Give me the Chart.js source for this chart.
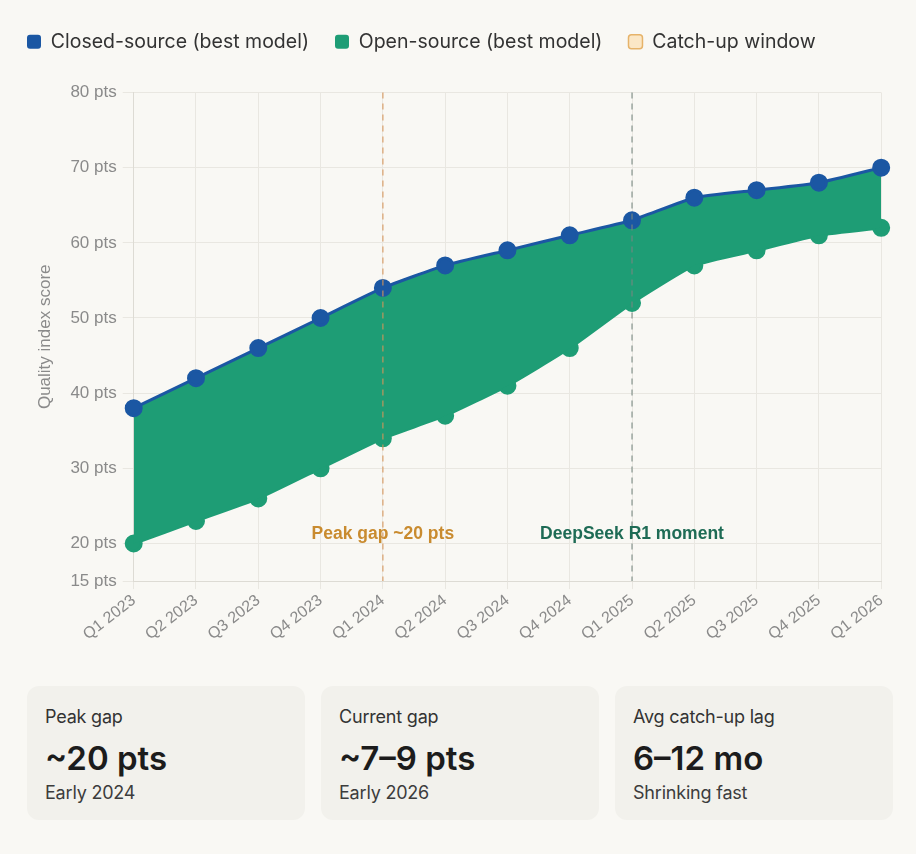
<!DOCTYPE html>
<html>
<head>
<meta charset="utf-8">
<script src="https://cdn.jsdelivr.net/npm/chart.js@4.4.1/dist/chart.umd.min.js"></script>
<style>
    html, body { margin: 0; padding: 0; background: #f9f8f4; }
    body { width: 916px; height: 854px; position: relative; overflow: hidden; font-family: "Inter", "Noto Sans", sans-serif; }
    #chartBox { position: absolute; left: 1px; top: 6px; width: 894px; height: 640px; }
    .cards { position: absolute; left: 27px; top: 686px; display: flex; gap: 16px; }
    .card { width: 260px; height: 114px; padding: 20px 0 0 18px; background: #f2f1ec; border-radius: 12px; }
    .card .lbl { font-size: 18px; line-height: 22px; color: #333; letter-spacing: -0.2px; }
    .card .val { font-size: 33px; line-height: 38px; font-weight: 600; color: #1c1c1c; margin-top: 11px; letter-spacing: 0; }
    .card .sub { font-size: 18px; line-height: 22px; color: #3c3c3c; margin-top: 5px; letter-spacing: -0.2px; }
</style>
</head>
<body>
<div id="chartBox"><canvas id="gapChart"></canvas></div>
<div class="cards" id="cards"></div>
<script>
    // Quarter labels along the x axis
    const quarters = ['Q1 2023', 'Q2 2023', 'Q3 2023', 'Q4 2023', 'Q1 2024', 'Q2 2024', 'Q3 2024',
                      'Q4 2024', 'Q1 2025', 'Q2 2025', 'Q3 2025', 'Q4 2025', 'Q1 2026'];

    // Best model quality index per quarter
    const closedScores = [38, 42, 46, 50, 54, 57, 59, 61, 63, 66, 67, 68, 70];
    const openScores   = [20, 23, 26, 30, 34, 37, 41, 46, 52, 57, 59, 61, 62];

    // Y axis tick values
    const yTicks = [15, 20, 30, 40, 50, 60, 70, 80];

    // Vertical event markers
    const markers = [
        { at: 'Q1 2024', text: 'Peak gap ~20 pts', line: 'rgba(214, 150, 90, 0.7)', color: '#c98b2f' },
        { at: 'Q1 2025', text: 'DeepSeek R1 moment', line: 'rgba(120, 135, 128, 0.7)', color: '#1e6b55' }
    ];
    const markerLabelValue = 21.2;

    // Summary cards under the chart
    const cardLabels = ['Peak gap', 'Current gap', 'Avg catch-up lag'];
    const cardValues = ['~20 pts', '~7–9 pts', '6–12 mo'];
    const cardNotes  = ['Early 2024', 'Early 2026', 'Shrinking fast'];

    const blue = '#1b57a3';
    const green = '#1e9d75';
    const axisFont = '"Liberation Sans", Arial, sans-serif';

    // Draw the dashed event lines and their labels
    const markerPlugin = {
        id: 'markerPlugin',
        afterDatasetsDraw(chart) {
            const { ctx, chartArea, scales } = chart;
            markers.forEach(m => {
                const x = scales.x.getPixelForValue(quarters.indexOf(m.at));
                ctx.save();
                ctx.strokeStyle = m.line;
                ctx.lineWidth = 1.5;
                ctx.setLineDash([6, 5]);
                ctx.beginPath();
                ctx.moveTo(x, chartArea.top);
                ctx.lineTo(x, chartArea.bottom);
                ctx.stroke();
                ctx.setLineDash([]);
                ctx.font = 'bold 17.5px ' + axisFont;
                ctx.fillStyle = m.color;
                ctx.textAlign = 'center';
                ctx.textBaseline = 'middle';
                ctx.fillText(m.text, x, scales.y.getPixelForValue(markerLabelValue));
                ctx.restore();
            });
        }
    };

    // Extra room between the legend and the plot
    const legendGap = {
        id: 'legendGap',
        beforeInit(chart) {
            const origFit = chart.legend.fit;
            chart.legend.fit = function() {
                origFit.bind(chart.legend)();
                this.height += 31;
            };
        }
    };

    const ctx = document.getElementById('gapChart').getContext('2d');
    new Chart(ctx, {
        type: 'line',
        data: {
            labels: quarters,
            datasets: [
                {
                    label: 'Closed-source (best model)',
                    data: closedScores,
                    borderColor: blue,
                    backgroundColor: green,
                    pointBackgroundColor: blue,
                    pointBorderColor: blue,
                    borderWidth: 3,
                    pointRadius: 7.5,
                    fill: '+1',
                    tension: 0.15,
                    order: 1
                },
                {
                    label: 'Open-source (best model)',
                    data: openScores,
                    borderColor: green,
                    backgroundColor: green,
                    pointBackgroundColor: green,
                    pointBorderColor: green,
                    borderWidth: 3,
                    pointRadius: 7.5,
                    fill: false,
                    tension: 0.15,
                    order: 2
                },
                {
                    label: 'Catch-up window',
                    data: [],
                    borderColor: '#e6b36a',
                    backgroundColor: '#fbe7c6',
                    borderWidth: 1,
                    pointRadius: 0,
                    fill: false
                }
            ]
        },
        options: {
            responsive: true,
            maintainAspectRatio: false,
            animation: false,
            layout: { padding: { left: 0, right: 2, top: 0, bottom: 0 } },
            plugins: {
                legend: {
                    position: 'top',
                    align: 'start',
                    labels: {
                        color: '#333',
                        font: { family: 'Inter, "Noto Sans", sans-serif', size: 19.5 },
                        boxWidth: 14,
                        boxHeight: 14,
                        padding: 26,
                        useBorderRadius: true,
                        borderRadius: 3,
                        generateLabels(chart) {
                            return chart.data.datasets.map((ds, i) => ({
                                text: ds.label,
                                fillStyle: i === 0 ? blue : ds.backgroundColor,
                                strokeStyle: ds.borderColor,
                                lineWidth: i === 2 ? 1.5 : 0,
                                fontColor: '#333',
                                datasetIndex: i,
                                borderRadius: 3
                            }));
                        }
                    }
                },
                tooltip: { enabled: false }
            },
            scales: {
                x: {
                    grid: { color: '#e9e7e1', tickLength: 8 },
                    border: { color: '#dddbd4' },
                    ticks: {
                        color: '#8a8a8a',
                        font: { family: axisFont, size: 16 },
                        maxRotation: 38,
                        minRotation: 38,
                        padding: 2
                    }
                },
                y: {
                    min: 15,
                    max: 80,
                    afterBuildTicks(axis) {
                        axis.ticks = yTicks.map(v => ({ value: v }));
                    },
                    grid: { color: '#e9e7e1', tickLength: 11 },
                    border: { color: '#dddbd4' },
                    title: {
                        display: true,
                        text: 'Quality index score',
                        color: '#8a8a8a',
                        font: { family: axisFont, size: 17 },
                        padding: { top: 34, bottom: 9 }
                    },
                    ticks: {
                        color: '#8a8a8a',
                        font: { family: axisFont, size: 17 },
                        padding: 6,
                        callback: v => v + ' pts'
                    }
                }
            }
        },
        plugins: [legendGap, markerPlugin]
    });

    // Build the summary cards
    const cards = document.getElementById('cards');
    cardLabels.forEach((lbl, i) => {
        const card = `<div class="card">
            <div class="lbl">${lbl}</div>
            <div class="val">${cardValues[i]}</div>
            <div class="sub">${cardNotes[i]}</div>
        </div>`;
        cards.insertAdjacentHTML('beforeend', card);
    });
</script>
</body>
</html>
